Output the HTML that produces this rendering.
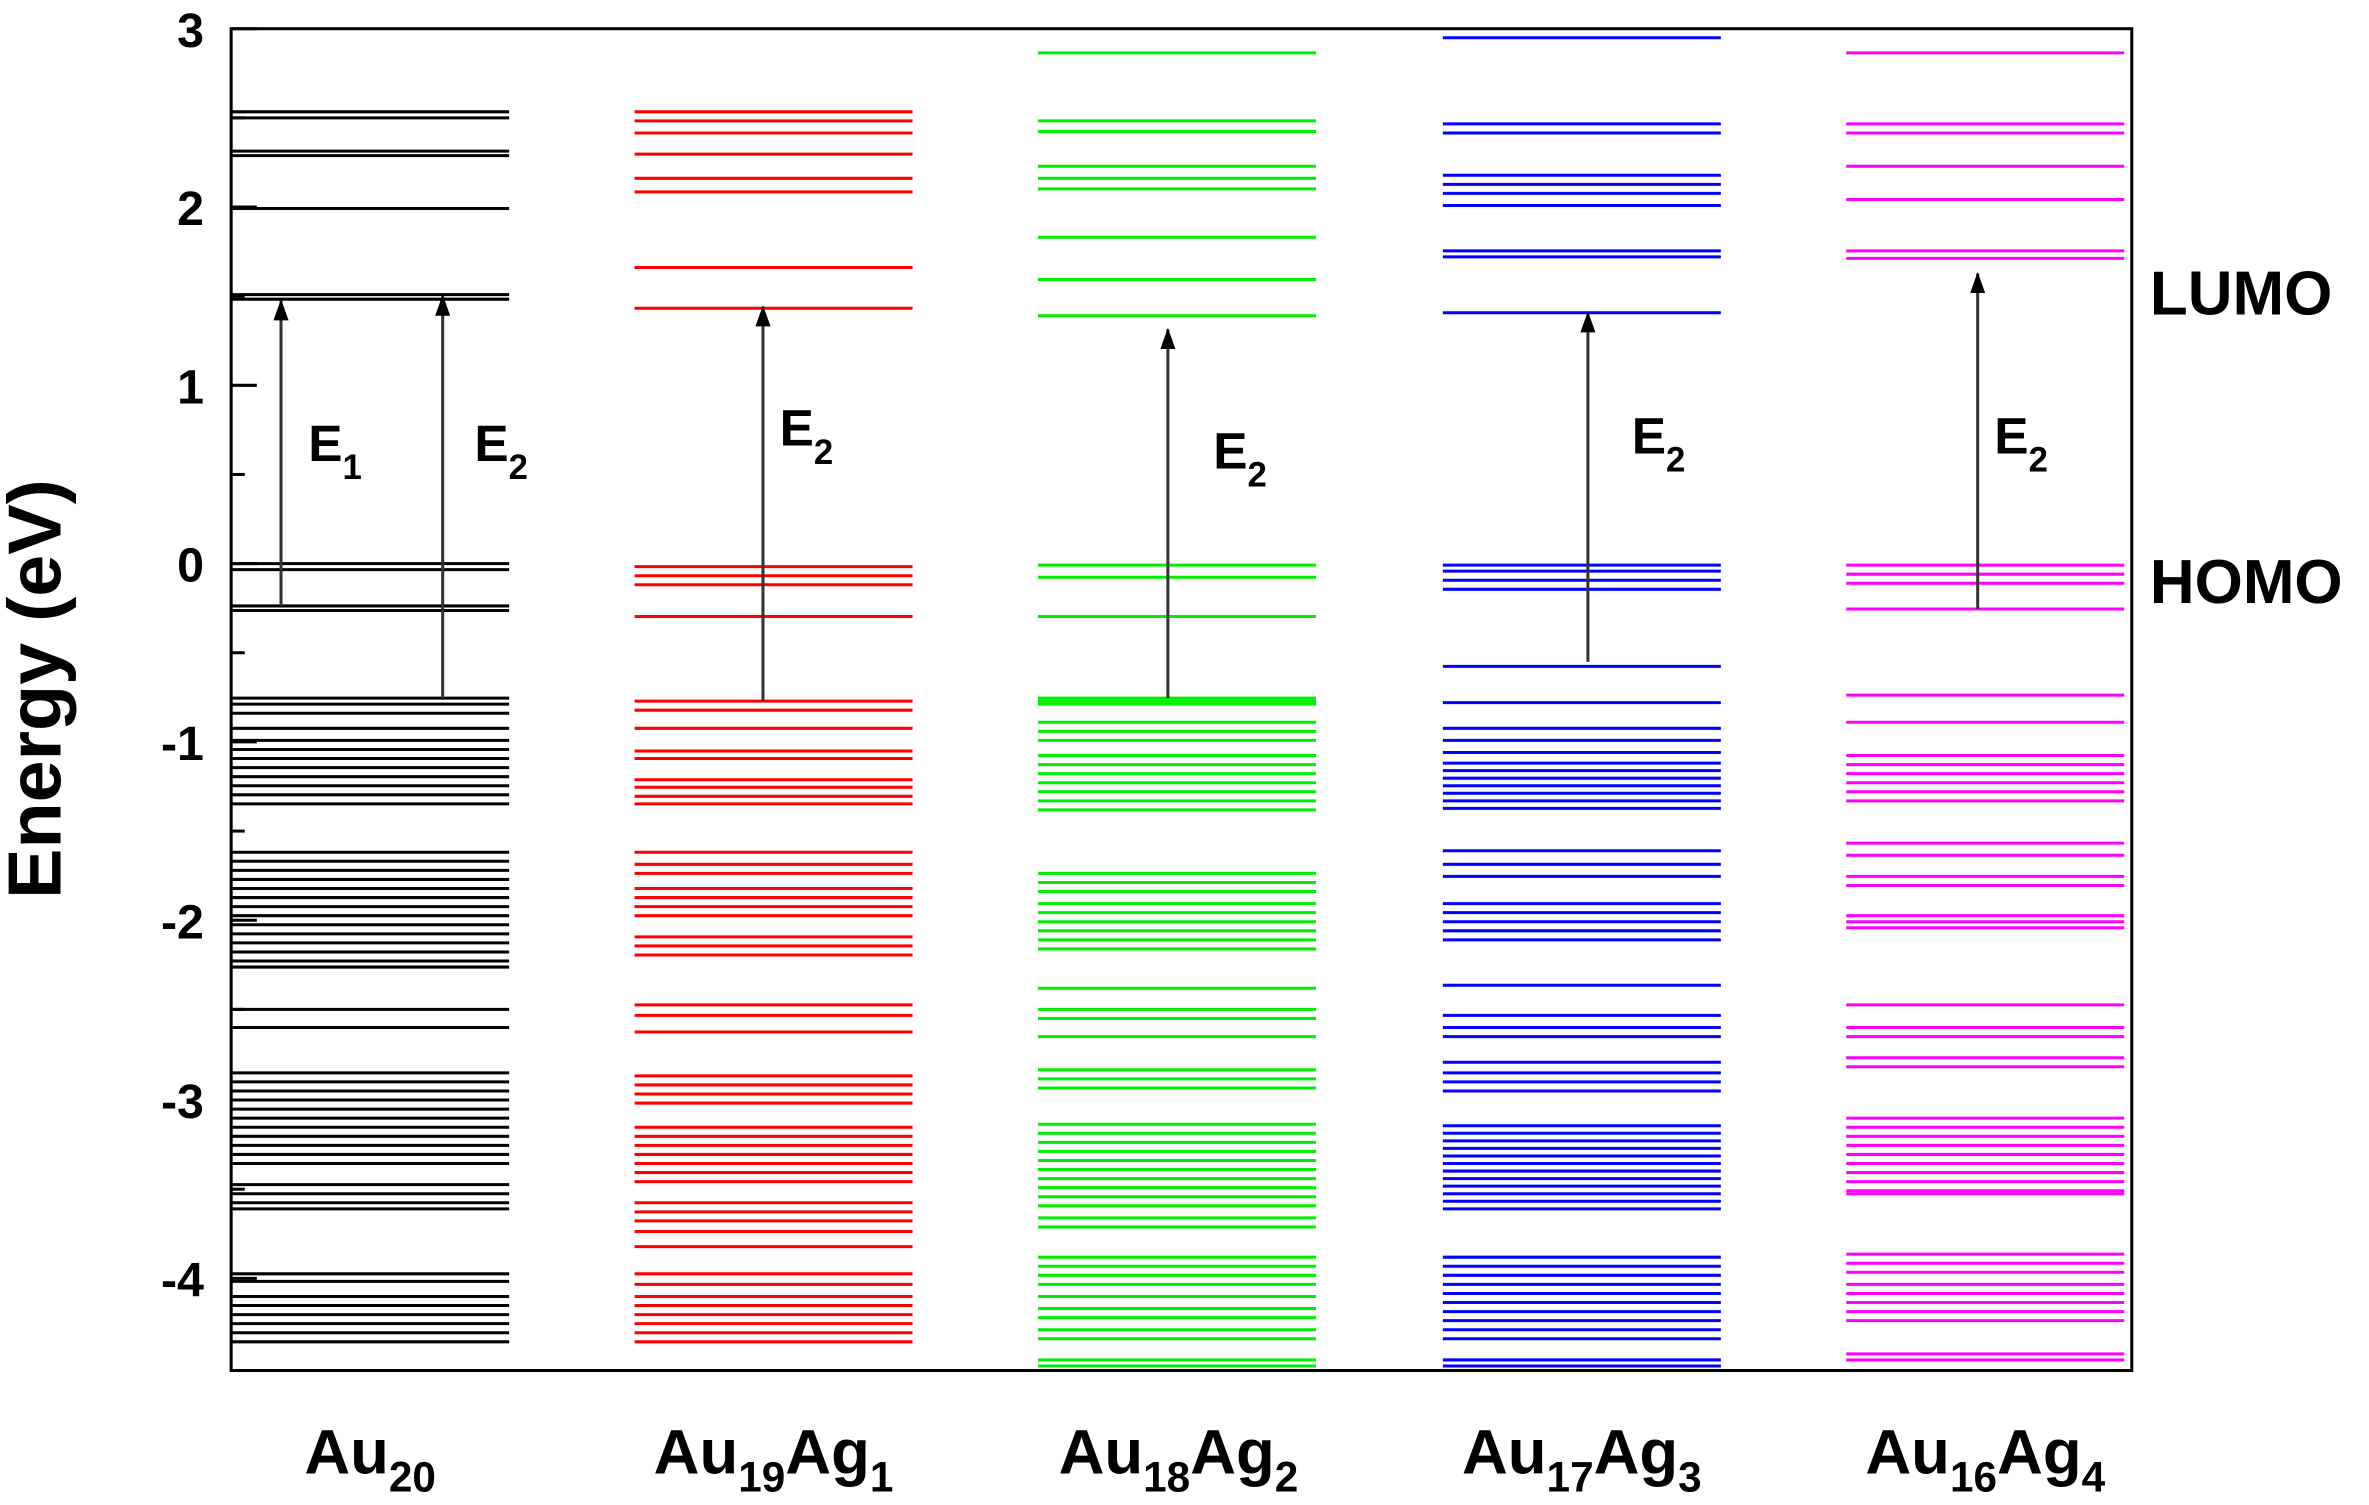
<!DOCTYPE html>
<html><head><meta charset="utf-8"><style>
html,body{margin:0;padding:0;background:#fff;}
svg{display:block;}
text{font-family:"Liberation Sans",Arial,sans-serif;font-weight:bold;fill:#000;}
</style></head><body>
<svg id="s" width="2369" height="1505" viewBox="0 0 1568 996" preserveAspectRatio="none" xmlns="http://www.w3.org/2000/svg">
<defs><marker id="ah" markerWidth="14" markerHeight="10" refX="13" refY="5" orient="auto" markerUnits="userSpaceOnUse" viewBox="0 0 14 10"><path d="M0,0 L14,5 L0,10 Z" fill="#000"/></marker></defs>
<g id="lv"></g>
<rect x="153" y="19" width="1258" height="888" fill="none" stroke="#000" stroke-width="2"/>
<g stroke="#000" stroke-width="2">
<line x1="153" y1="19" x2="170" y2="19"/><line x1="153" y1="137" x2="170" y2="137"/><line x1="153" y1="255" x2="170" y2="255"/><line x1="153" y1="373" x2="170" y2="373"/><line x1="153" y1="491" x2="170" y2="491"/><line x1="153" y1="609" x2="170" y2="609"/><line x1="153" y1="728" x2="170" y2="728"/><line x1="153" y1="846" x2="170" y2="846"/>
<line x1="153" y1="78" x2="162" y2="78"/><line x1="153" y1="196" x2="162" y2="196"/><line x1="153" y1="314" x2="162" y2="314"/><line x1="153" y1="432" x2="162" y2="432"/><line x1="153" y1="550" x2="162" y2="550"/><line x1="153" y1="668" x2="162" y2="668"/><line x1="153" y1="787" x2="162" y2="787"/>
</g>
<g font-size="32" text-anchor="end">
<text x="135" y="31">3</text><text x="135" y="149">2</text><text x="135" y="267">1</text><text x="135" y="385">0</text><text x="135" y="503">-1</text><text x="135" y="621">-2</text><text x="135" y="740">-3</text><text x="135" y="858">-4</text>
</g>
<text transform="translate(40,456) rotate(-90)" font-size="50" text-anchor="middle">Energy (eV)</text>
<text x="1423" y="208" font-size="41">LUMO</text>
<text x="1423" y="399" font-size="41">HOMO</text>
<g stroke="#333" stroke-width="2" marker-end="url(#ah)">
<line x1="186" y1="401" x2="186" y2="199"/>
<line x1="293" y1="462" x2="293" y2="196"/>
<line x1="505" y1="464" x2="505" y2="203"/>
<line x1="773" y1="462" x2="773" y2="218"/>
<line x1="1051" y1="438" x2="1051" y2="207"/>
<line x1="1309" y1="403" x2="1309" y2="181"/>
</g>
<g font-size="34">
<text x="204" y="305">E<tspan font-size="23" dy="12">1</tspan></text>
<text x="314" y="305">E<tspan font-size="23" dy="12">2</tspan></text>
<text x="516" y="295">E<tspan font-size="23" dy="12">2</tspan></text>
<text x="803" y="310">E<tspan font-size="23" dy="12">2</tspan></text>
<text x="1080" y="300">E<tspan font-size="23" dy="12">2</tspan></text>
<text x="1320" y="300">E<tspan font-size="23" dy="12">2</tspan></text>
</g>
<g font-size="42" text-anchor="middle">
<text x="245" y="975">Au<tspan font-size="28" dy="12">20</tspan></text>
<text x="512" y="975">Au<tspan font-size="28" dy="12">19</tspan><tspan dy="-12">Ag</tspan><tspan font-size="28" dy="12">1</tspan></text>
<text x="780" y="975">Au<tspan font-size="28" dy="12">18</tspan><tspan dy="-12">Ag</tspan><tspan font-size="28" dy="12">2</tspan></text>
<text x="1047" y="975">Au<tspan font-size="28" dy="12">17</tspan><tspan dy="-12">Ag</tspan><tspan font-size="28" dy="12">3</tspan></text>
<text x="1314" y="975">Au<tspan font-size="28" dy="12">16</tspan><tspan dy="-12">Ag</tspan><tspan font-size="28" dy="12">4</tspan></text>
</g>
</svg>
<script>
var cols=[
{x:153,c:"#000",y:[74,78,100,103,138,195,198,373,377,401,404,462,466,472,482,490,496,502,508,514,520,526,532,564,570,576,582,588,594,600,606,612,618,624,630,636,640,668,680,710,716,722,728,734,740,746,752,758,764,770,784,790,796,800,843,848,858,864,870,876,882,888]},
{x:420,c:"#f00",y:[74,80,88,102,118,127,177,204,375,381,387,408,464,470,482,497,502,516,521,527,532,564,572,578,588,594,600,606,620,626,632,665,672,683,712,718,724,730,746,752,758,764,770,776,782,796,802,808,815,825,843,850,858,864,870,876,882,888]},
{x:687,c:"#0e0",y:[35,80,87,110,118,125,157,185,209,374,382,408,462,464,466,478,484,490,500,506,512,518,524,530,536,578,584,590,598,604,610,616,622,628,654,668,674,686,708,714,720,744,750,756,762,768,774,780,786,792,798,806,812,832,838,844,850,858,866,872,880,886,900,904]},
{x:955,c:"#00f",y:[25,82,88,116,122,128,136,166,170,207,374,378,384,390,441,465,482,490,498,505,510,515,520,525,530,535,563,572,580,598,604,610,616,622,652,672,680,686,703,710,716,722,745,750,755,760,765,770,775,780,785,790,795,800,832,838,844,850,856,862,868,874,880,886,900,904]},
{x:1222,c:"#f0f",y:[35,82,88,110,132,166,171,374,380,386,403,460,478,500,506,512,518,524,530,558,566,580,586,606,610,614,665,680,686,700,706,740,746,752,758,764,770,776,782,788,790,830,836,842,850,856,862,868,874,896,900]}];
var g=document.getElementById("lv"),s="";
cols.forEach(function(c){c.y.forEach(function(y){s+='<line x1="'+c.x+'" y1="'+y+'" x2="'+(c.x+184)+'" y2="'+y+'" stroke="'+c.c+'" stroke-width="2"/>';});});
g.innerHTML=s;
</script>
</body></html>
